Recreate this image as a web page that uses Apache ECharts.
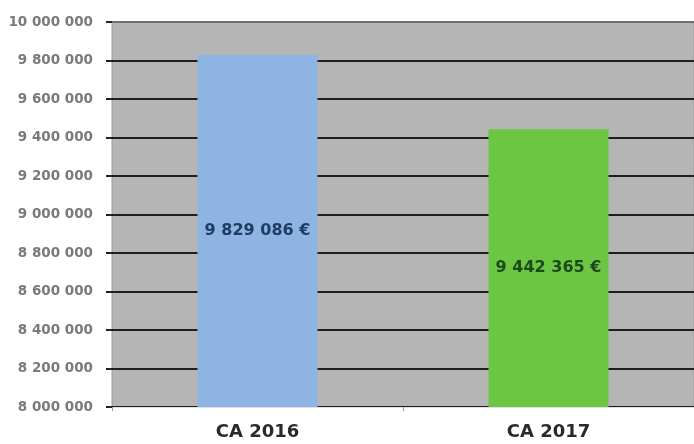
<!DOCTYPE html>
<html><head><meta charset="utf-8">
<script src="https://cdn.jsdelivr.net/npm/echarts@6/dist/echarts.min.js"></script>
<style>html,body{margin:0;padding:0;background:#fff}#c{width:694px;height:444px}</style>
</head><body><div id="c"></div>
<script>
const categories = ['CA 2016', 'CA 2017'];
const values = [9829086, 9442365];
const barColors = ['#8db4e2', '#6cc644'];
const labelColors = ['#1f3d63', '#1b4a1b'];
const yMin = 8000000, yMax = 10000000, yStep = 200000;

function fmt(n) { return String(n).replace(/\B(?=(\d{3})+(?!\d))/g, ' '); }

const lineColors = ['#1e1e1e','#1e1e1e','#1e1e1e','#1e1e1e','#1e1e1e','#1e1e1e','#1e1e1e','#1e1e1e','#1e1e1e','#1e1e1e','#6e6e6e'];

const chart = echarts.init(document.getElementById('c'));
chart.setOption({
  animation: false,
  grid: { left: 112, right: -4, top: 22, bottom: 37, show: true, backgroundColor: '#b5b5b5', borderColor: '#9a9a9a', borderWidth: 1 },
  xAxis: {
    type: 'category', data: categories,
    axisLine: { lineStyle: { color: '#e0e0e0' } },
    axisTick: { show: true, alignWithLabel: false, lineStyle: { color: '#999' }, length: 4 },
    axisLabel: { color: '#2a2a2a', fontSize: 18, fontWeight: 'bold', fontFamily: 'DejaVu Sans', margin: 16 }
  },
  yAxis: {
    type: 'value', min: yMin, max: yMax, interval: yStep,
    axisLine: { show: false },
    axisTick: { show: true, length: 6, lineStyle: { color: '#222', width: 2 } },
    splitLine: { lineStyle: { color: lineColors, width: 2 } },
    axisLabel: { color: '#7a7a7a', fontSize: 13.5, fontWeight: 'bold', fontFamily: 'DejaVu Sans', margin: 19, formatter: v => fmt(v) }
  },
  series: [{
    type: 'bar',
    data: values.map((v, i) => ({ value: v, itemStyle: { color: barColors[i] }, label: { color: labelColors[i] } })),
    barWidth: 120,
    label: { show: true, position: 'inside', fontSize: 16, fontWeight: 'bold', fontFamily: 'DejaVu Sans', formatter: p => fmt(p.value) + ' €' }
  }]
});
</script></body></html>
